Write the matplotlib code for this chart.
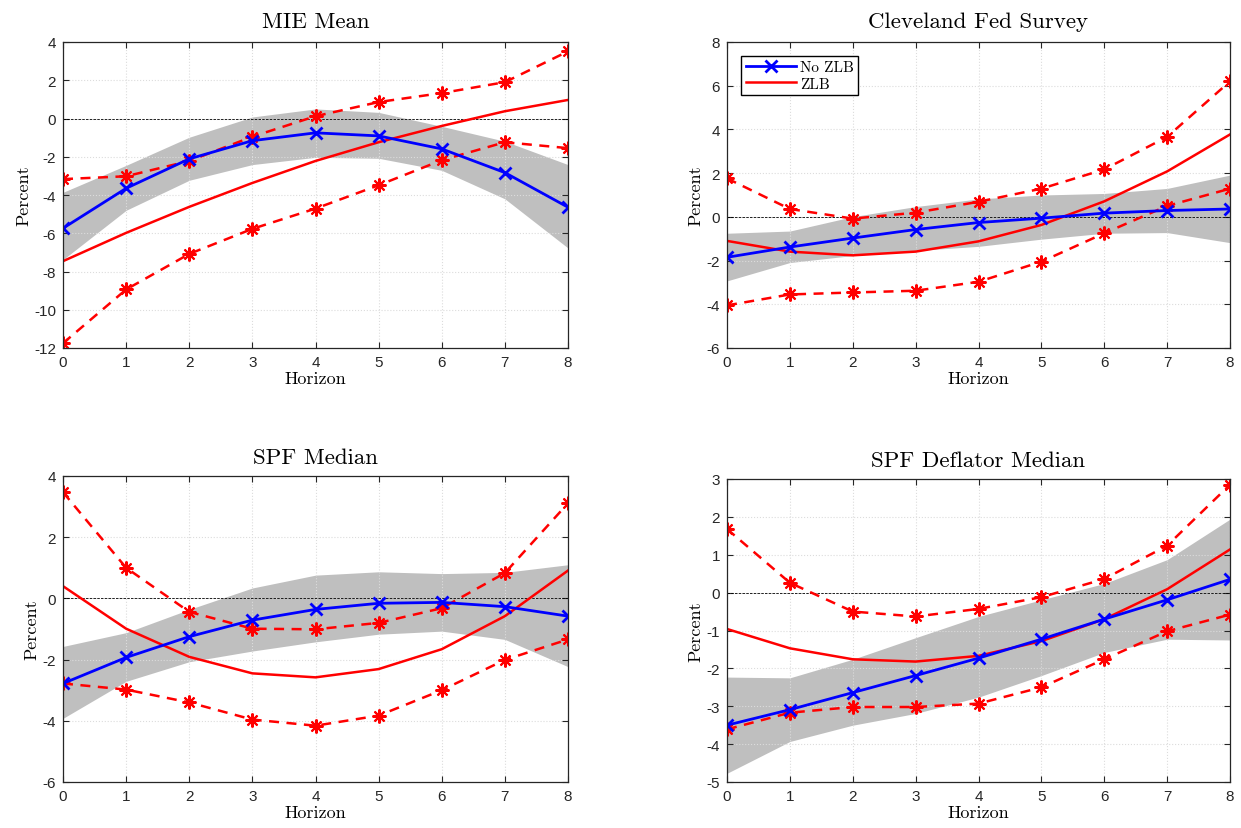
import numpy as np
import matplotlib
matplotlib.use("Agg")
import matplotlib.pyplot as plt

plt.rcParams['axes.unicode_minus'] = False

horizon = [0, 1, 2, 3, 4, 5, 6, 7, 8]
titles = ["MIE Mean", "Cleveland Fed Survey", "SPF Median", "SPF Deflator Median"]

# MIE Mean
mie_nozlb = [-5.74, -3.65, -2.11, -1.16, -0.75, -0.91, -1.59, -2.83, -4.64]
mie_band_hi = [-3.86, -2.45, -0.98, 0.08, 0.5, 0.32, -0.41, -1.19, -2.41]
mie_band_lo = [-7.38, -4.8, -3.23, -2.41, -2.03, -2.08, -2.71, -4.2, -6.77]
mie_zlb = [-7.46, -5.98, -4.62, -3.37, -2.22, -1.24, -0.39, 0.38, 0.97]
mie_zlb_hi = [-3.17, -3.02, -2.22, -0.95, 0.12, 0.86, 1.33, 1.9, 3.51]
mie_zlb_lo = [-11.75, -8.94, -7.08, -5.77, -4.71, -3.49, -2.18, -1.24, -1.55]

# Cleveland Fed Survey
cle_nozlb = [-1.85, -1.38, -0.97, -0.58, -0.26, -0.06, 0.17, 0.29, 0.36]
cle_band_hi = [-0.75, -0.65, 0.01, 0.47, 0.82, 1.0, 1.07, 1.3, 1.91]
cle_band_lo = [-2.93, -2.09, -1.77, -1.54, -1.35, -1.02, -0.75, -0.72, -1.18]
cle_zlb = [-1.1, -1.59, -1.76, -1.59, -1.12, -0.37, 0.71, 2.08, 3.77]
cle_zlb_hi = [1.76, 0.36, -0.08, 0.19, 0.69, 1.29, 2.17, 3.66, 6.2]
cle_zlb_lo = [-4.05, -3.55, -3.46, -3.38, -2.97, -2.05, -0.75, 0.5, 1.29]

# SPF Median
spf_nozlb = [-2.78, -1.93, -1.25, -0.71, -0.36, -0.16, -0.13, -0.27, -0.58]
spf_band_hi = [-1.57, -1.12, -0.36, 0.34, 0.76, 0.87, 0.81, 0.85, 1.1]
spf_band_lo = [-3.92, -2.71, -2.07, -1.72, -1.42, -1.17, -1.07, -1.34, -2.23]
spf_zlb = [0.4, -0.99, -1.91, -2.45, -2.58, -2.31, -1.66, -0.58, 0.91]
spf_zlb_hi = [3.47, 1.0, -0.44, -0.99, -1.01, -0.8, -0.32, 0.83, 3.11]
spf_zlb_lo = [-2.78, -2.98, -3.4, -3.96, -4.16, -3.83, -3.0, -2.01, -1.34]

# SPF Deflator Median
def_nozlb = [-3.5, -3.09, -2.64, -2.19, -1.73, -1.23, -0.7, -0.19, 0.35]
def_band_hi = [-2.23, -2.25, -1.76, -1.19, -0.63, -0.19, 0.24, 0.87, 1.94]
def_band_lo = [-4.77, -3.93, -3.5, -3.19, -2.76, -2.19, -1.58, -1.23, -1.25]
def_zlb = [-0.96, -1.47, -1.76, -1.82, -1.67, -1.28, -0.7, 0.09, 1.14]
def_zlb_hi = [1.68, 0.26, -0.5, -0.63, -0.43, -0.12, 0.36, 1.24, 2.85]
def_zlb_lo = [-3.61, -3.17, -3.02, -3.02, -2.93, -2.5, -1.76, -1.02, -0.58]

panels = [
    (mie_nozlb, mie_band_lo, mie_band_hi, mie_zlb, mie_zlb_lo, mie_zlb_hi, (-12, 4), 2),
    (cle_nozlb, cle_band_lo, cle_band_hi, cle_zlb, cle_zlb_lo, cle_zlb_hi, (-6, 8), 2),
    (spf_nozlb, spf_band_lo, spf_band_hi, spf_zlb, spf_zlb_lo, spf_zlb_hi, (-6, 4), 2),
    (def_nozlb, def_band_lo, def_band_hi, def_zlb, def_zlb_lo, def_zlb_hi, (-5, 3), 1),
]

W, H = 1241, 829
fig = plt.figure(figsize=(W / 100, H / 100), dpi=100)
rects = [
    (63, 43, 568, 349),
    (727, 43, 1230, 349),
    (63, 477, 568, 783),
    (727, 480, 1230, 783),
]
title_pads = [11, 11, 9, 9]
serif = 'cmr10'
asterisk = (8, 2, 0)

for i, (nz, blo, bhi, z, zlo, zhi, ylim, step) in enumerate(panels):
    l, t, r, b = rects[i]
    ax = fig.add_axes([l / W, 1 - b / H, (r - l) / W, (b - t) / H])
    x = np.array(horizon)
    ax.fill_between(x, blo, bhi, color='#bfbfbf', linewidth=0, zorder=1)
    ax.axhline(0, color='black', linestyle='--', linewidth=0.6, dashes=(3, 1.5), zorder=2.6)
    ax.plot(x, z, color='red', linewidth=1.8, zorder=3, label='ZLB')
    ax.plot(x, zhi, color='red', linestyle='--', linewidth=1.8, dashes=(4, 3),
            marker=asterisk, markersize=10, markeredgewidth=1.5, zorder=3)
    ax.plot(x, zlo, color='red', linestyle='--', linewidth=1.8, dashes=(4, 3),
            marker=asterisk, markersize=10, markeredgewidth=1.5, zorder=3)
    ax.plot(x, nz, color='blue', linewidth=2.0, marker='x', markersize=9,
            markeredgewidth=2.0, zorder=4, label='No ZLB')
    ax.set_xlim(0, 8)
    ax.set_ylim(*ylim)
    ax.set_xticks(horizon)
    ax.set_yticks(np.arange(ylim[0], ylim[1] + 0.1, step))
    ax.set_axisbelow(False)
    ax.grid(True, linestyle=':', color='#dcdcdc', linewidth=0.8, zorder=2.5)
    ax.tick_params(direction='in', top=True, right=True, length=4, width=0.8,
                   labelsize=11, colors='#262626', labelcolor='#262626', pad=5)
    for lab in ax.get_xticklabels() + ax.get_yticklabels():
        lab.set_family(['Liberation Sans', 'DejaVu Sans'])
    for s in ax.spines.values():
        s.set_linewidth(0.9)
        s.set_color('#262626')
        s.set_zorder(5)
    ax.set_title(titles[i], fontsize=16.5, family=serif, pad=title_pads[i])
    ax.set_xlabel('Horizon', fontsize=13, family=serif, labelpad=1)
    ax.set_ylabel('Percent', fontsize=13, family=serif, labelpad=2)
    if i == 1:
        h, lb = ax.get_legend_handles_labels()
        order = [lb.index('No ZLB'), lb.index('ZLB')]
        leg = ax.legend([h[k] for k in order], [lb[k] for k in order], loc='upper left',
                        bbox_to_anchor=(0.028, 0.955), fancybox=False, edgecolor='black',
                        framealpha=1, prop={'family': serif, 'size': 11},
                        handlelength=3.3, borderpad=0.3, labelspacing=0.2,
                        handletextpad=0.25, borderaxespad=0.0)
        leg.get_frame().set_linewidth(1.0)
        leg.set_zorder(6)

fig.savefig('out.png', dpi=100)
